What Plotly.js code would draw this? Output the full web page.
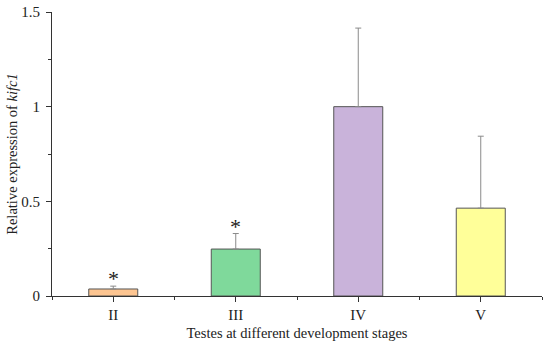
<!DOCTYPE html>
<html>
<head>
<meta charset="utf-8">
<script src="https://cdn.plot.ly/plotly-3.0.1.min.js"></script>
<style>html,body{margin:0;padding:0;background:#fff;}#chart{width:550px;height:345px;}</style>
</head>
<body>
<div id="chart"></div>
<script>
const categories = ["II", "III", "IV", "V"];
const values = [0.037, 0.248, 1.0, 0.464];
const errors = [0.015, 0.082, 0.415, 0.38];
const colors = ["#FDC591", "#7FD99B", "#C9B3DA", "#FFFF99"];
const significant = [true, true, false, false];
const xpos = categories.map((c, i) => i + 1);

const font = "Liberation Serif, Times New Roman, serif";

const trace = {
  type: "bar",
  x: xpos,
  y: values,
  width: 0.4,
  marker: { color: colors, line: { color: "#555555", width: 1 } },
  error_y: { type: "data", array: errors, symmetric: false, arrayminus: errors.map(() => 0), color: "#8a8a8a", thickness: 1, width: 3 },
  hoverinfo: "none"
};

const annotations = xpos.filter((x, i) => significant[i]).map((x) => {
  const i = x - 1;
  return {
    x: x, y: values[i] + errors[i], xref: "x", yref: "y",
    text: "*", showarrow: false, yanchor: "bottom", yshift: -7,
    font: { family: font, size: 22, color: "#222" }
  };
});

const layout = {
  width: 550, height: 345,
  margin: { l: 52, r: 8, t: 12, b: 49 },
  paper_bgcolor: "#fff", plot_bgcolor: "#fff",
  showlegend: false,
  font: { family: font, size: 15, color: "#222" },
  xaxis: {
    range: [0.5, 4.5],
    tickvals: xpos, ticktext: categories,
    ticks: "outside", ticklen: 5, tickcolor: "#333", tickwidth: 1,
    showline: true, linecolor: "#333", linewidth: 1,
    showgrid: false, zeroline: false,
    tickfont: { family: font, size: 15, color: "#222" },
    minor: { tickvals: [0.5, 1.5, 2.5, 3.5, 4.5], ticks: "outside", ticklen: 3, tickcolor: "#333", showgrid: false },
    title: { text: "Testes at different development stages", font: { family: font, size: 14.5, color: "#222" }, standoff: 5 }
  },
  yaxis: {
    range: [0, 1.5],
    tickvals: [0, 0.5, 1, 1.5], ticktext: ["0", "0.5", "1", "1.5"],
    ticks: "outside", ticklen: 5, tickcolor: "#333", tickwidth: 1,
    ticklabelstandoff: 3,
    showline: true, linecolor: "#333", linewidth: 1,
    showgrid: false, zeroline: false,
    tickfont: { family: font, size: 15, color: "#222" },
    minor: { tickvals: [0.25, 0.75, 1.25], ticks: "outside", ticklen: 3, tickcolor: "#333", showgrid: false },
    title: { text: "Relative expression of <i>kifc1</i>", font: { family: font, size: 14.5, color: "#222" }, standoff: 0 }
  },
  annotations: annotations
};

Plotly.newPlot("chart", [trace], layout, { displayModeBar: false, staticPlot: true });
</script>
</body>
</html>
